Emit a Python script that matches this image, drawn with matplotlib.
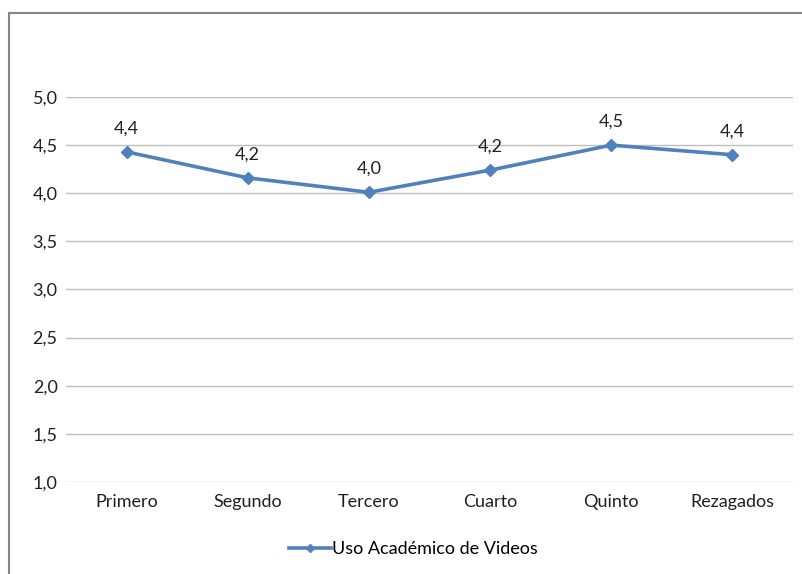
import matplotlib.pyplot as plt
from matplotlib.patches import Rectangle

# Datos
categorias = ['Primero', 'Segundo', 'Tercero', 'Cuarto', 'Quinto', 'Rezagados']
valores = [4.43, 4.16, 4.01, 4.24, 4.50, 4.40]
yticks = [1.0, 1.5, 2.0, 2.5, 3.0, 3.5, 4.0, 4.5, 5.0]
serie = 'Uso Académico de Videos'

plt.rcParams['font.family'] = ['Lato', 'DejaVu Sans']
color = '#4F81BD'
fs = 13

fig = plt.figure(figsize=(8.03, 5.74), dpi=100)
ax = fig.add_axes([0.0822, 0.1603, 0.9053, 0.6707])

x = range(len(categorias))
ax.plot(x, valores, color=color, lw=2.6, marker='D', ms=6.5, label=serie)

# etiquetas de datos
for i, v in zip(x, valores):
    ax.annotate(f'{v:.1f}'.replace('.', ','), (i, v), xytext=(0, 11),
                textcoords='offset points', ha='center', va='bottom', fontsize=fs,
                color='#202020')

ax.set_xlim(-0.5, len(categorias) - 0.5)
ax.set_ylim(1.0, 5.0)
ax.set_yticks(yticks)
ax.set_yticklabels([f'{t:.1f}'.replace('.', ',') for t in yticks])
ax.set_xticks(list(x))
ax.set_xticklabels(categorias)
ax.grid(axis='y', color='#BEBEBE', lw=1)
ax.set_axisbelow(True)
for s in ax.spines.values():
    s.set_visible(False)
ax.tick_params(length=0, labelsize=fs, colors='#202020')
ax.tick_params(axis='y', pad=6)
ax.tick_params(axis='x', pad=9)

ax.legend(loc='center', frameon=False, fontsize=fs, handlelength=2.3,
          handletextpad=0.1, markerscale=0.7)
leg = ax.get_legend()
leg.set_bbox_to_anchor((0.515, 0.043), transform=fig.transFigure)

# marco del gráfico
fig.patches.append(Rectangle((9 / 803, -0.05), 1.1, 1 - 13 / 574 + 0.05,
                             transform=fig.transFigure, fill=False,
                             ec='#868686', lw=1.5))

plt.savefig('out.png')
